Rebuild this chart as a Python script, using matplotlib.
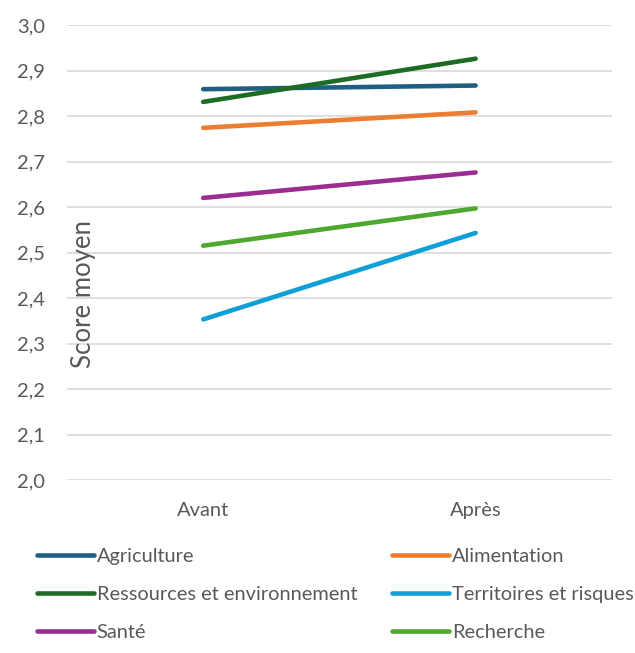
import matplotlib
matplotlib.use('Agg')
import matplotlib.pyplot as plt
from matplotlib.ticker import FuncFormatter

# données
periods = ['Avant', 'Après']
series = ['Agriculture', 'Alimentation', 'Ressources et environnement',
          'Territoires et risques', 'Santé', 'Recherche']
agriculture = [2.859, 2.867]
alimentation = [2.774, 2.808]
ressources = [2.831, 2.926]
territoires = [2.353, 2.543]
sante = [2.620, 2.676]
recherche = [2.515, 2.597]
colors = ['#1F5F82', '#ED7D31', '#1E6B24', '#0FA0D8', '#9B2D91', '#4EA72E']

values = [agriculture, alimentation, ressources, territoires, sante, recherche]

plt.rcParams['font.family'] = ['Lato', 'DejaVu Sans']
text_color = '#595959'

fig = plt.figure(figsize=(6.35, 6.53), dpi=100)
ax = fig.add_axes([0.1055, 0.2649, 0.858, 0.6968])

for name, vals, c in zip(series, values, colors):
    ax.plot(periods, vals, color=c, linewidth=3.3, solid_capstyle='round', label=name)

ax.set_ylim(2.0, 3.0)
ax.set_xlim(-0.5, 1.5)
ax.set_yticks([2.0 + 0.1 * i for i in range(11)])
ax.yaxis.set_major_formatter(FuncFormatter(lambda v, p: f'{v:.1f}'.replace('.', ',')))
ax.grid(axis='y', color='#D9D9D9', linewidth=1.2)
ax.set_axisbelow(True)
for s in ax.spines.values():
    s.set_visible(False)
ax.tick_params(length=0, labelsize=14.5, colors=text_color)
ax.tick_params(axis='y', pad=16)
ax.tick_params(axis='x', pad=16)

fig.text(0.132, 0.55, 'Score moyen', rotation=90, ha='center', va='center',
         fontsize=18.5, color=text_color)

# légende remplie ligne par ligne
handles, labels = ax.get_legend_handles_labels()
order = [0, 2, 4, 1, 3, 5]
leg = fig.legend([handles[i] for i in order], [labels[i] for i in order],
                 loc='upper left', bbox_to_anchor=(0.058, 0.161),
                 ncol=2, frameon=False, fontsize=14.4, handlelength=2.85,
                 handletextpad=0.15, columnspacing=1.75, labelspacing=1.05,
                 labelcolor=text_color, borderaxespad=0, borderpad=0)

fig.savefig('out.png', dpi=100)
